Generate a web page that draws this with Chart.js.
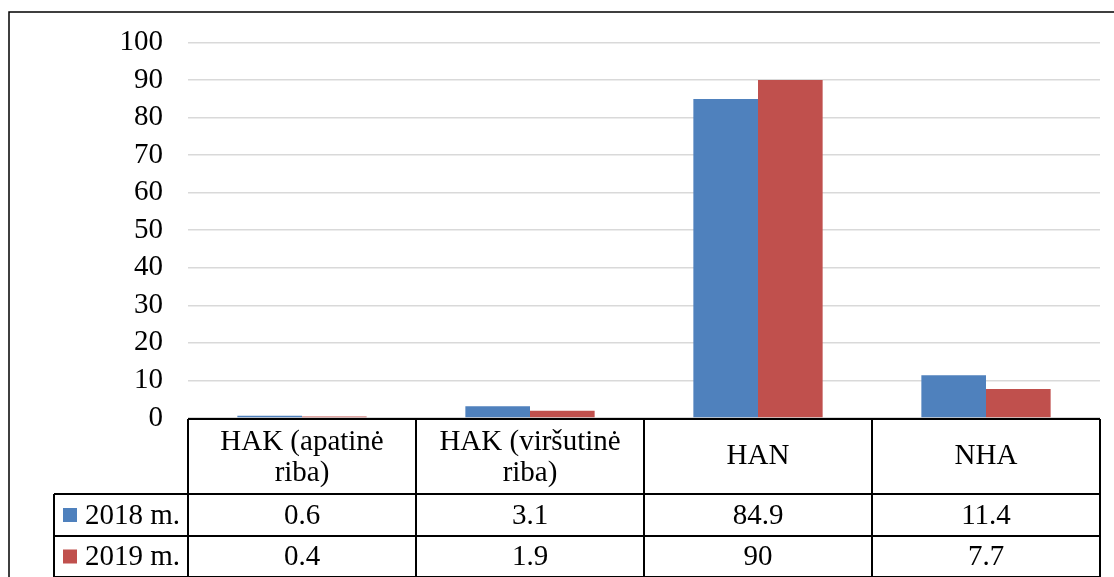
<!DOCTYPE html>
<html>
<head>
<meta charset="utf-8">
<script src="https://cdn.jsdelivr.net/npm/chart.js@4/dist/chart.umd.min.js"></script>
<style>
  html, body { margin: 0; padding: 0; background: #fff; }
  #wrap { position: relative; width: 1114px; height: 577px; }
</style>
</head>
<body>
<div id="wrap"><canvas id="c" width="1114" height="577"></canvas></div>
<script>
const categories = [["HAK (apatinė", "riba)"], ["HAK (viršutinė", "riba)"], "HAN", "NHA"];
const seriesNames = ["2018 m.", "2019 m."];
const values2018 = [0.6, 3.1, 84.9, 11.4];
const values2019 = [0.4, 1.9, 90, 7.7];
const valueLabels2018 = ["0.6", "3.1", "84.9", "11.4"];
const valueLabels2019 = ["0.4", "1.9", "90", "7.7"];
const colors = ["#4F81BD", "#C0504D"];

const FONT = "'Liberation Serif', 'Times New Roman', serif";
const FS = 29;

const tablePlugin = {
  id: 'dataTable',
  beforeDraw(chart) {
    const ctx = chart.ctx;
    ctx.save();
    ctx.fillStyle = '#fff';
    ctx.fillRect(0, 0, chart.width, chart.height);
    ctx.restore();
  },
  afterDraw(chart) {
    const ctx = chart.ctx;
    const xs = chart.scales.x;
    const area = chart.chartArea;
    const n = categories.length;
    const cw = (area.right - area.left) / n;
    const top = area.bottom + 1;
    const hdrH = 75, r1H = 42, r2H = 41;
    const legLeft = 54;
    ctx.save();
    ctx.strokeStyle = '#000';
    ctx.lineWidth = 1.5;
    ctx.beginPath();
    ctx.moveTo(9, chart.height + 2);
    ctx.lineTo(9, 12);
    ctx.lineTo(chart.width + 2, 12);
    ctx.stroke();

    ctx.lineWidth = 2;
    ctx.beginPath();
    ctx.moveTo(area.left, top); ctx.lineTo(area.right, top);
    const y1 = top + hdrH, y2 = y1 + r1H, y3 = y2 + r2H;
    ctx.moveTo(legLeft, y1); ctx.lineTo(area.right, y1);
    ctx.moveTo(legLeft, y2); ctx.lineTo(area.right, y2);
    ctx.moveTo(legLeft, y3); ctx.lineTo(area.right, y3);
    for (let i = 0; i <= n; i++) {
      const x = area.left + i * cw;
      ctx.moveTo(x, top); ctx.lineTo(x, y3);
    }
    ctx.moveTo(legLeft, y1); ctx.lineTo(legLeft, y3);
    ctx.stroke();

    ctx.fillStyle = '#000';
    ctx.font = FS + 'px ' + FONT;
    ctx.textAlign = 'center';
    ctx.textBaseline = 'middle';
    for (let i = 0; i < n; i++) {
      const cx = xs.getPixelForValue(i);
      const lab = categories[i];
      if (Array.isArray(lab)) {
        ctx.fillText(lab[0], cx, top + 23);
        ctx.fillText(lab[1], cx, top + 54);
      } else {
        ctx.fillText(lab, cx, top + hdrH / 2);
      }
      ctx.fillText(valueLabels2018[i], cx, y1 + r1H / 2 + 1);
      ctx.fillText(valueLabels2019[i], cx, y2 + r2H / 2 + 1);
    }
    ctx.textAlign = 'left';
    const rowsY = [y1 + r1H / 2, y2 + r2H / 2];
    for (let s = 0; s < 2; s++) {
      ctx.fillStyle = colors[s];
      ctx.fillRect(63, rowsY[s] - 7, 14, 14);
      ctx.fillStyle = '#000';
      ctx.fillText(seriesNames[s], 85, rowsY[s] + 1);
    }
    ctx.restore();
  }
};

new Chart(document.getElementById('c'), {
  type: 'bar',
  data: {
    labels: categories,
    datasets: [
      { label: seriesNames[0], data: values2018, backgroundColor: colors[0], borderWidth: 0 },
      { label: seriesNames[1], data: values2019, backgroundColor: colors[1], borderWidth: 0 }
    ]
  },
  options: {
    responsive: false,
    animation: false,
    devicePixelRatio: 1,
    layout: { padding: { top: 42, bottom: 151, right: 14, left: 0 } },
    datasets: { bar: { categoryPercentage: 0.567, barPercentage: 1.0 } },
    plugins: { legend: { display: false }, tooltip: { enabled: false } },
    scales: {
      x: {
        ticks: { display: false },
        grid: { display: false },
        border: { display: false }
      },
      y: {
        min: 0, max: 100,
        afterFit(scale) { scale.width = 188; },
        ticks: { stepSize: 10, autoSkip: false, padding: 25, color: '#000', font: { family: FONT, size: FS } },
        grid: { color: '#d9d9d9', lineWidth: 1.5, drawTicks: false },
        border: { display: false }
      }
    }
  },
  plugins: [tablePlugin]
});
</script>
</body>
</html>
